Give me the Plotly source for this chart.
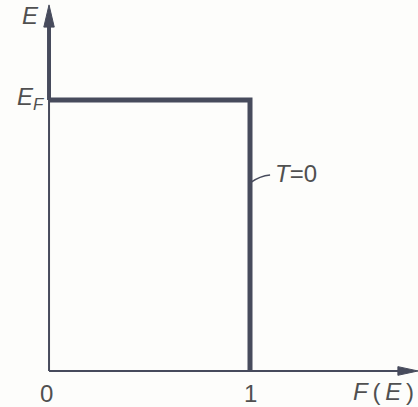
import plotly.graph_objects as go

# Fermi-Dirac occupation F(E) at T = 0: a step at the Fermi energy
occupation = [0, 1, 1]      # F(E)
energy = [1, 1, 0]          # E, in units of E_F
E_F = 1.0

x_ticks = [0, 1]
x_tick_labels = ["0", "1"]

# axis extents (data units)
X_MIN, X_MAX = -0.244, 1.836
Y_MIN, Y_MAX = -0.133, 1.369
Y_ARROW_TIP, Y_ARROW_BASE = 1.351, 1.269
X_ARROW_TIP, X_ARROW_BASE = 1.836, 1.736

INK = "#474b5c"
TEXT = "#505050"
FONT = "Liberation Sans"
THIN = "\u2009"

fig = go.Figure()

# the step itself
fig.add_trace(go.Scatter(
    x=occupation, y=energy, mode="lines",
    line=dict(color=INK, width=5, shape="linear"),
    hoverinfo="skip", showlegend=False,
))

shapes = [
    # E axis: thin below E_F, heavy above
    dict(type="line", x0=0, y0=0, x1=0, y1=E_F, line=dict(color=INK, width=2)),
    dict(type="line", x0=0, y0=E_F, x1=0, y1=Y_ARROW_BASE + 0.01, line=dict(color=INK, width=4)),
    # F(E) axis
    dict(type="line", x0=0, y0=0, x1=X_ARROW_BASE + 0.01, y1=0, line=dict(color=INK, width=2)),
    # arrow heads
    dict(type="path",
         path=f"M 0,{Y_ARROW_TIP} L -0.026,{Y_ARROW_BASE} L 0.026,{Y_ARROW_BASE} Z",
         fillcolor=INK, line=dict(color=INK, width=1)),
    dict(type="path",
         path=f"M {X_ARROW_TIP},0 L {X_ARROW_BASE},0.016 L {X_ARROW_BASE},-0.016 Z",
         fillcolor=INK, line=dict(color=INK, width=1)),
    # leader from the step to the T=0 label
    dict(type="path",
         path=f"M {occupation[-1]},0.694 Q 1.05,0.72 1.10,0.723",
         line=dict(color=INK, width=1.5)),
]

font = dict(family=FONT, size=24, color=TEXT)
annotations = [
    dict(x=-0.092, y=1.31, text="<i>E</i>", xanchor="center", yanchor="middle"),
    dict(x=-0.012, y=E_F + 0.005, text="<i>E<sub>F</sub></i>",
         xanchor="right", yanchor="middle"),
    dict(x=1.112, y=0.728, text="<i>T</i>=0", xanchor="left", yanchor="middle"),
    dict(x=1.505, y=-0.074, text=f"<i>F</i>{THIN}({THIN}<i>E</i>{THIN})",
         xanchor="left", yanchor="middle"),
]
for xv, lab in zip(x_ticks, x_tick_labels):
    annotations.append(dict(x=xv - 0.015 if xv == 0 else xv, y=-0.082, text=lab,
                            xanchor="center", yanchor="middle"))
for a in annotations:
    a.update(showarrow=False, font=font, xref="x", yref="y")

fig.update_layout(
    width=418, height=407,
    margin=dict(l=0, r=0, t=0, b=0),
    paper_bgcolor="#fdfdfb", plot_bgcolor="#fdfdfb",
    xaxis=dict(range=[X_MIN, X_MAX], visible=False, fixedrange=True),
    yaxis=dict(range=[Y_MIN, Y_MAX], visible=False, fixedrange=True),
    shapes=shapes, annotations=annotations,
    showlegend=False,
)

fig.write_html("out.html")
